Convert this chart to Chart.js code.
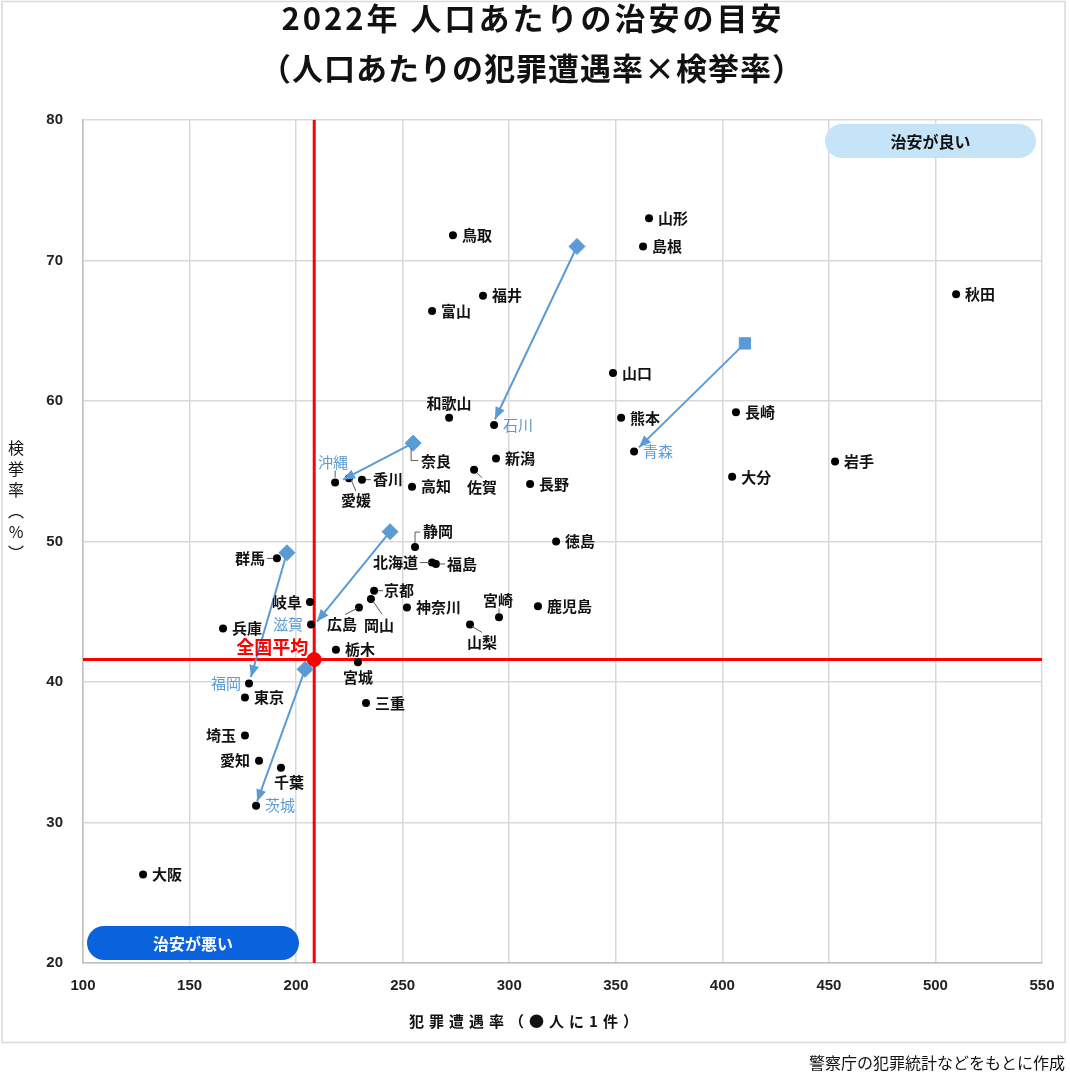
<!DOCTYPE html>
<html lang="ja">
<head>
<meta charset="utf-8">
<title>2022年 人口あたりの治安の目安</title>
<script src="https://cdn.jsdelivr.net/npm/chart.js@4.4.1/dist/chart.umd.min.js"></script>
<style>
  html, body { margin:0; padding:0; background:#fff; }
  #wrap { width:1070px; height:1078px; }
</style>
</head>
<body>
<div id="wrap"><canvas id="c" width="1070" height="1078"></canvas></div>
<script>
// ===== data =====
const prefectures = ['北海道','青森','岩手','宮城','秋田','山形','福島','茨城','栃木','群馬','埼玉','千葉','東京','神奈川','新潟','富山','石川','福井','山梨','長野','岐阜','静岡','愛知','三重','滋賀','京都','大阪','兵庫','奈良','和歌山','鳥取','島根','岡山','広島','山口','徳島','香川','愛媛','高知','福岡','佐賀','長崎','熊本','大分','宮崎','鹿児島','沖縄'];
// 犯罪遭遇率（●人に1件）
const crimeRate = [263.8,358.6,452.9,229.0,509.7,365.6,265.6,181.2,218.7,191.0,176.0,192.9,176.0,252.0,293.8,263.8,292.9,287.7,281.6,309.8,206.5,255.8,182.6,232.8,207.0,236.6,128.2,165.7,254.9,271.8,273.6,362.8,235.1,229.5,348.7,322.0,230.9,224.8,254.4,177.9,283.5,406.4,352.5,404.6,295.2,313.5,218.3];
// 検挙率（%）
const clearanceRate = [48.5,56.4,55.7,41.4,67.6,73.0,48.4,31.2,42.3,48.8,36.2,33.9,38.9,45.3,55.9,66.4,58.3,67.5,44.1,54.1,45.7,49.6,34.4,38.5,44.1,46.5,26.3,43.8,56.9,58.8,71.8,71.0,45.9,45.3,62.0,50.0,54.4,54.5,53.9,39.9,55.1,59.2,58.8,54.6,44.6,45.4,54.2];

const avgLabel = '全国平均';
const avgCrime = 208.5;
const avgClearance = 41.6;

const arrowNames = ['沖縄','石川','青森','滋賀','福岡','茨城'];
const arrowFromX = [254.9,331.8,410.6,244.1,195.7,204.2];
const arrowFromY = [57.0,71.0,64.1,50.7,49.2,40.9];
const arrowToX = [222.0,293.3,360.9,209.8,178.8,181.7];
const arrowToY = [54.4,58.7,56.7,44.3,40.35,31.5];

const xMin = 100, xMax = 550, xStep = 50;
const yMin = 20, yMax = 80, yStep = 10;

const titleLines = ['2022年 人口あたりの治安の目安', '（人口あたりの犯罪遭遇率×検挙率）'];
const xTitle = '犯罪遭遇率（●人に1件）';
const yTitleChars = ['検','挙','率','︵','%','︶'];
const goodText = '治安が良い', badText = '治安が悪い';
const sourceText = '警察庁の犯罪統計などをもとに作成';

// ===== styles =====
const JP = '"Noto Sans CJK JP", "Noto Sans", sans-serif';
const BLUE = '#5b9bd5', RED = '#ff0000';
const arrowStartStyle = { 青森: 'rect' };
// label offsets in px from the dot (default: right of dot)
const labelPlace = {
  和歌山:{dx:0,dy:-15,align:'center'},
  佐賀:{dx:8,dy:17,align:'center',lead:[[3,3],[8,8]]},
  香川:{dx:11,lead:[[4,0],[9,0]]},
  愛媛:{dx:7,dy:22,align:'center',lead:[[2,1],[7,13]]},
  沖縄:{dx:-2,dy:-20,align:'center',lead:[[0,-12],[0,-5]]},
  奈良:{dx:8,dy:17,lead:[[-2,4],[-2,16],[5,16]]},
  静岡:{dx:8,dy:-16,lead:[[0,-4],[0,-15],[5,-15]]},
  北海道:{dx:-14,align:'right',lead:[[-12,0],[-2,0]]},
  福島:{dx:11,lead:[[3,0],[9,0]]},
  群馬:{dx:-12,align:'right',lead:[[-10,0],[-4,0]]},
  岐阜:{dx:-8,align:'right'},
  京都:{dx:10,lead:[[4,0],[9,0]]},
  岡山:{dx:8,dy:26,align:'center',lead:[[2,2],[11,15]]},
  広島:{dx:-17,dy:17,align:'center',lead:[[-2,1],[-14,7]]},
  滋賀:{dx:-8,align:'right'},
  宮城:{dx:0,dy:15,align:'center'},
  宮崎:{dx:-1,dy:-17,align:'center',lead:[[0,-9],[0,-4]]},
  山梨:{dx:12,dy:18,align:'center',lead:[[2,2],[12,8]]},
  福岡:{dx:-8,align:'right'},
  埼玉:{dx:-9,align:'right'},
  愛知:{dx:-9,align:'right'},
  千葉:{dx:8,dy:15,align:'center'}
};

// ===== datasets =====
const datasets = [];
arrowNames.forEach((n, i) => {
  datasets.push({
    type:'line', label:'arrow-'+n, order:0, isArrow:true,
    data:[{x:arrowFromX[i], y:arrowFromY[i]}, {x:arrowToX[i], y:arrowToY[i]}],
    showLine:true, borderColor:BLUE, borderWidth:2, backgroundColor:BLUE,
    pointStyle:[arrowStartStyle[n] || 'rectRot', 'circle'], pointRadius:[8,0], pointBorderWidth:1
  });
});
datasets.push({ type:'scatter', label:avgLabel, order:1, data:[{x:avgCrime, y:avgClearance}],
  pointRadius:7, backgroundColor:RED, borderColor:RED });
const PREF_IDX = datasets.length;
datasets.push({ type:'scatter', label:'prefectures', order:2,
  data:prefectures.map((n,i) => ({x:crimeRate[i], y:clearanceRate[i]})),
  pointRadius:4, backgroundColor:'#000', borderColor:'#000', borderWidth:0 });
datasets.push({ type:'line', label:'avg-v', order:3, data:[{x:avgCrime,y:yMin},{x:avgCrime,y:yMax}],
  showLine:true, borderColor:RED, borderWidth:3, pointRadius:0 });
datasets.push({ type:'line', label:'avg-h', order:3, data:[{x:xMin,y:avgClearance},{x:xMax,y:avgClearance}],
  showLine:true, borderColor:RED, borderWidth:3, pointRadius:0 });

function pill(ctx, x, y, w, h, fill, text, color) {
  ctx.beginPath(); ctx.roundRect(x, y, w, h, h/2); ctx.fillStyle = fill; ctx.fill();
  ctx.font = 'bold 16px ' + JP; ctx.fillStyle = color; ctx.textAlign = 'center'; ctx.textBaseline = 'middle';
  ctx.fillText(text, x + w/2, y + h/2 + 1);
}

const decor = {
  id:'decor',
  beforeDraw(chart) {
    const ctx = chart.ctx;
    ctx.save();
    ctx.fillStyle = '#fff'; ctx.fillRect(0, 0, chart.width, chart.height);
    ctx.strokeStyle = '#d9d9d9'; ctx.lineWidth = 1.5; ctx.strokeRect(2, 1.5, 1063, 1041);
    ctx.restore();
  },
  beforeDatasetsDraw(chart) {
    const ctx = chart.ctx, ca = chart.chartArea;
    ctx.save();
    pill(ctx, ca.right - 217, ca.top + 4, 211, 34, '#c6e4f8', goodText, '#111');
    pill(ctx, ca.left + 4, ca.bottom - 37, 212, 34, '#0a63dc', badText, '#fff');
    ctx.restore();
  },
  afterDatasetsDraw(chart) {
    const ctx = chart.ctx;
    ctx.save();
    // arrow heads
    chart.data.datasets.forEach((ds, di) => {
      if (!ds.isArrow) return;
      const m = chart.getDatasetMeta(di), p0 = m.data[0], p1 = m.data[1];
      const a = Math.atan2(p1.y - p0.y, p1.x - p0.x), L = 12, W = 5;
      const bx = p1.x - L*Math.cos(a), by = p1.y - L*Math.sin(a);
      ctx.beginPath();
      ctx.moveTo(p1.x, p1.y);
      ctx.lineTo(bx + W*Math.sin(a), by - W*Math.cos(a));
      ctx.lineTo(bx - W*Math.sin(a), by + W*Math.cos(a));
      ctx.closePath(); ctx.fillStyle = BLUE; ctx.fill();
    });
    // prefecture labels
    const meta = chart.getDatasetMeta(PREF_IDX);
    prefectures.forEach((name, i) => {
      const pt = meta.data[i];
      const p = Object.assign({dx:9, dy:0, align:'left'}, labelPlace[name] || {});
      const blue = arrowNames.includes(name);
      if (p.lead) {
        ctx.strokeStyle = '#595959'; ctx.lineWidth = 1; ctx.beginPath();
        p.lead.forEach(([lx, ly], k) => k ? ctx.lineTo(pt.x+lx, pt.y+ly) : ctx.moveTo(pt.x+lx, pt.y+ly));
        ctx.stroke();
      }
      ctx.font = (blue ? '' : 'bold ') + '15px ' + JP;
      ctx.fillStyle = blue ? BLUE : '#111';
      ctx.textAlign = p.align; ctx.textBaseline = 'middle';
      ctx.fillText(name, pt.x + p.dx, pt.y + p.dy);
    });
    // national average label
    const av = chart.getDatasetMeta(PREF_IDX - 1).data[0];
    ctx.font = 'bold 18px ' + JP; ctx.fillStyle = RED; ctx.textAlign = 'right'; ctx.textBaseline = 'middle';
    ctx.fillText(avgLabel, av.x - 6, av.y - 12);
    ctx.restore();
  },
  afterDraw(chart) {
    const ctx = chart.ctx;
    ctx.save();
    ctx.fillStyle = '#111'; ctx.textAlign = 'center'; ctx.textBaseline = 'middle';
    ctx.font = 'bold 31px ' + JP;
    ctx.letterSpacing = '3px';
    ctx.fillText(titleLines[0], 533, 18);
    ctx.letterSpacing = '1px';
    ctx.fillText(titleLines[1], 532, 68);
    ctx.letterSpacing = '5px';
    ctx.font = 'bold 15px ' + JP;
    ctx.fillText(xTitle, 526, 1021);
    ctx.letterSpacing = '0px';
    ctx.font = '16px ' + JP;
    yTitleChars.forEach((ch, i) => ctx.fillText(ch, 16, 448 + i*21));
    ctx.textAlign = 'right';
    ctx.fillText(sourceText, 1065, 1063);
    ctx.restore();
  }
};

new Chart(document.getElementById('c'), {
  type:'scatter',
  data:{ datasets },
  options:{
    responsive:false, animation:false,
    layout:{ padding:{ left:43, right:28, top:120, bottom:75 } },
    plugins:{ legend:{display:false}, tooltip:{enabled:false}, title:{display:false} },
    scales:{
      x:{ type:'linear', min:xMin, max:xMax,
        ticks:{ stepSize:xStep, padding:14, color:'#222', font:{family:'"Liberation Sans", sans-serif', size:15, weight:'bold'} },
        grid:{ color:'#d9d9d9', lineWidth:1.5, drawTicks:false },
        border:{ color:'#bfbfbf', width:1.5 },
        afterFit(s){ s.height = 40; } },
      y:{ type:'linear', min:yMin, max:yMax,
        ticks:{ stepSize:yStep, padding:20, color:'#222', font:{family:'"Liberation Sans", sans-serif', size:15, weight:'bold'} },
        grid:{ color:'#d9d9d9', lineWidth:1.5, drawTicks:false },
        border:{ color:'#bfbfbf', width:1.5 },
        afterFit(s){ s.width = 40; } }
    }
  },
  plugins:[decor]
});
</script>
</body>
</html>
